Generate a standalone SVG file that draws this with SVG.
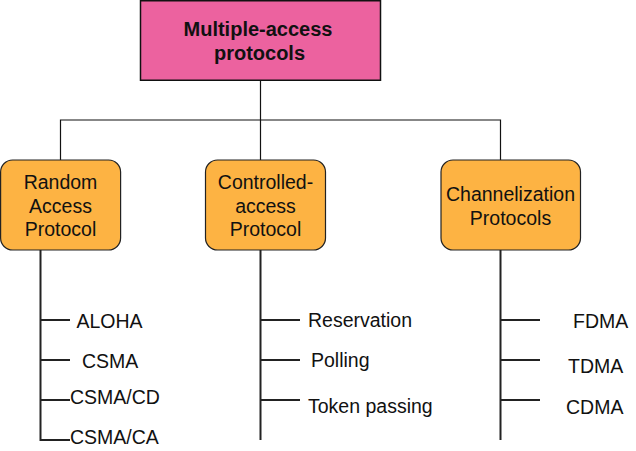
<svg xmlns="http://www.w3.org/2000/svg" width="636" height="451" viewBox="0 0 636 451">
<style>
text{font-family:"Liberation Sans",Arial,sans-serif;font-size:19.5px;fill:#111}
.c{text-anchor:middle}
.b{font-weight:bold}
.top{fill:#ec629f;stroke:#111;stroke-width:1.5}
.box{fill:#fdb343;stroke:#222;stroke-width:1.2}
.thin{fill:none;stroke:#111;stroke-width:1.2}
.thick{fill:none;stroke:#222;stroke-width:2}
</style>
<rect width="636" height="451" fill="#fff"/>
<g id="connectors">
<path class="thin" d="M260.5 80V120M60.5 160V120H500.5V160M260.5 120V160"/>
<path class="thick" d="M40.5 250V440H70M40.5 320H70M40.5 360H70M40.5 400H70"/>
<path class="thick" d="M260.5 250V440M260.5 320H300M260.5 360H300M260.5 400H300"/>
<path class="thick" d="M500.5 250V440M500.5 320H540M500.5 360H540M500.5 400H540"/>
</g>
<g id="root">
<rect class="top" x="140.5" y="0.75" width="240" height="79.5"/>
<text class="c b" x="258" y="36" style="font-size:20px">Multiple-access</text>
<text class="c b" x="259.5" y="60" style="font-size:20px">protocols</text>
</g>
<g id="random">
<rect class="box" x="0.6" y="160" width="120" height="90" rx="12"/>
<text class="c" x="60.5" y="189">Random</text>
<text class="c" x="60.5" y="212.5">Access</text>
<text class="c" x="60.5" y="236">Protocol</text>
</g>
<g id="controlled">
<rect class="box" x="205.5" y="160" width="120" height="90" rx="12"/>
<text class="c" x="265.5" y="189">Controlled-</text>
<text class="c" x="265.5" y="212.5">access</text>
<text class="c" x="265.5" y="236">Protocol</text>
</g>
<g id="channelization">
<rect class="box" x="441" y="160" width="139.5" height="90" rx="12"/>
<text class="c" x="510.5" y="201">Channelization</text>
<text class="c" x="510.5" y="224.5">Protocols</text>
</g>
<g id="aloha"><text x="76.5" y="328">ALOHA</text></g>
<g id="csma"><text x="82" y="368">CSMA</text></g>
<g id="csmacd"><text x="70" y="404">CSMA/CD</text></g>
<g id="csmaca"><text x="70" y="444">CSMA/CA</text></g>
<g id="reservation"><text x="308" y="327">Reservation</text></g>
<g id="polling"><text x="311" y="367">Polling</text></g>
<g id="token"><text x="308" y="413">Token passing</text></g>
<g id="fdma"><text x="573" y="328">FDMA</text></g>
<g id="tdma"><text x="568" y="373">TDMA</text></g>
<g id="cdma"><text x="566" y="414">CDMA</text></g>
</svg>
